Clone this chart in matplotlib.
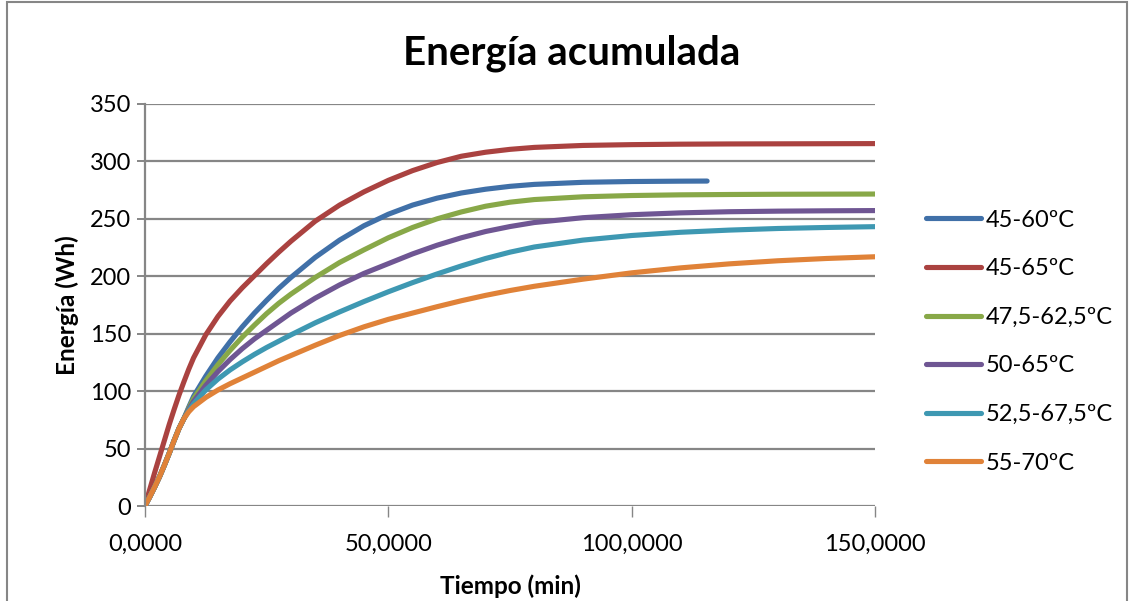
import matplotlib
matplotlib.use("Agg")
import matplotlib.pyplot as plt
from matplotlib.patches import Rectangle
from matplotlib.ticker import FuncFormatter

# Tiempo (min) de cada lectura y energía acumulada (Wh) por rango de temperaturas
t_full = [0, 1, 2, 3, 4, 5, 6, 7, 8, 9, 10, 12.5, 15, 17.5, 20, 22.5, 25, 27.5, 30,
          35, 40, 45, 50, 55, 60, 65, 70, 75, 80, 90, 100, 110, 120, 130, 140, 150]
t_4560 = [0, 1, 2, 3, 4, 5, 6, 7, 8, 9, 10, 12.5, 15, 17.5, 20, 22.5, 25, 27.5, 30,
          35, 40, 45, 50, 55, 60, 65, 70, 75, 80, 90, 100, 110, 115.5]

e_4560 = [0, 8, 16.5, 25.5, 35.5, 46, 57, 67.5, 76, 86, 95.5, 113, 129, 143, 156, 168, 179,
          189.5, 199, 216.5, 231.5, 244, 254, 262, 268, 272.5, 275.8, 278.3, 280, 281.8,
          282.5, 282.8, 282.9]
e_4565 = [0, 14.5, 29, 43, 57, 71, 84, 96.5, 108, 119, 129, 149, 165, 178.5, 190, 200.5,
          211, 221, 230.5, 248, 262, 273.5, 283.5, 292, 299, 304.5, 308, 310.5, 312.2,
          313.9, 314.6, 315, 315.2, 315.3, 315.4, 315.5]
e_4762 = [0, 8, 16.5, 25.5, 35.5, 46, 57, 67.5, 76, 85, 93.5, 109, 123, 135.5, 147, 157.5,
          167.5, 176.5, 184.5, 199, 212, 223, 233.5, 242.5, 250, 256, 261, 264.5, 266.8,
          269.2, 270.3, 270.9, 271.2, 271.4, 271.5, 271.6]
e_5065 = [0, 8, 16.5, 25.5, 35.5, 46, 57, 67.5, 76, 84, 91, 105, 117, 127.5, 137, 145.5,
          153, 160.5, 168, 181, 192.5, 202.5, 211, 219.5, 227, 233.5, 239, 243.3, 246.8,
          251, 253.6, 255.2, 256.2, 256.7, 257, 257.2]
e_5267 = [0, 8, 16.5, 25.5, 35.5, 46, 57, 67.5, 76, 83, 89, 101, 110.5, 118.5, 125.5, 132,
          138, 143.5, 149, 159.5, 169, 178, 186.5, 194.5, 202, 209, 215.5, 221, 225.5,
          231.5, 235.5, 238.3, 240.2, 241.6, 242.5, 243.2]
e_5570 = [0, 8, 16.5, 25.5, 35.5, 46, 57, 67.5, 76, 82, 86.5, 94.5, 101, 106.5, 111.5,
          116.5, 121.5, 126.5, 131, 140, 148.5, 156, 162.5, 168, 173.5, 178.7, 183.4,
          187.6, 191.3, 197.5, 203, 207.3, 210.8, 213.5, 215.5, 217]

labels = ["45-60ºC", "45-65ºC", "47,5-62,5ºC", "50-65ºC", "52,5-67,5ºC", "55-70ºC"]
colors = ["#4070A8", "#AA4240", "#88A848", "#6F5693", "#3E98B2", "#E08238"]

series = [(t_4560, e_4560), (t_full, e_4565), (t_full, e_4762),
          (t_full, e_5065), (t_full, e_5267), (t_full, e_5570)]

plt.rcParams["font.family"] = ["Lato", "DejaVu Sans"]

fig = plt.figure(figsize=(11.32, 6.01), dpi=100)
ax = fig.add_axes([0.128, 0.158, 0.645, 0.669])

for (t, e), lab, c in zip(series, labels, colors):
    ax.plot(t, e, color=c, lw=3.7, label=lab, solid_capstyle="round",
            solid_joinstyle="round")

ax.set_xlim(0, 150)
ax.set_ylim(0, 350)
ax.set_xticks([0, 50, 100, 150])
ax.set_yticks(range(0, 351, 50))
ax.xaxis.set_major_formatter(FuncFormatter(lambda v, p: f"{v:.4f}".replace(".", ",")))

ax.grid(axis="y", color="#868686", lw=1.6)
ax.set_axisbelow(True)
for side in ["top", "right", "bottom"]:
    ax.spines[side].set_visible(False)
ax.spines["left"].set_color("#868686")
ax.spines["left"].set_linewidth(1.6)
ax.tick_params(axis="y", direction="out", length=6, width=1.4, color="#868686",
               labelsize=17, pad=4)
ax.tick_params(axis="x", direction="out", length=8, width=1.0, color="#868686",
               labelsize=17, pad=12)

ax.set_xlabel("Tiempo (min)", fontsize=17.5, fontweight="bold", labelpad=14)
ax.set_ylabel("Energía (Wh)", fontsize=17.5, fontweight="bold", labelpad=8)
fig.text(0.505, 0.911, "Energía acumulada", ha="center", va="center",
         fontsize=29, fontweight="bold")

leg = ax.legend(loc="center left", bbox_to_anchor=(1.07, 0.409), frameon=False,
                fontsize=17, handlelength=2.33, handletextpad=0.2,
                labelspacing=1.17, borderaxespad=0, borderpad=0)
for h in leg.get_lines():
    h.set_linewidth(3.7)

fig.patches.append(Rectangle((0.006, -0.02), 0.99, 1.017, transform=fig.transFigure,
                             fill=False, edgecolor="#868686", lw=1.5))

fig.savefig("out.png", dpi=100)
